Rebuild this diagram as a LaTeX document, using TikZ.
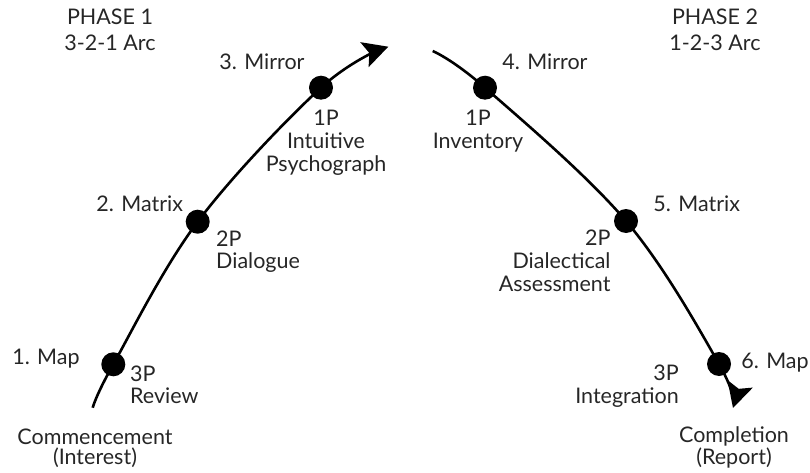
\documentclass[tikz,border=0pt]{standalone}
\usepackage{fontspec}
\setmainfont{Lato}
\usetikzlibrary{arrows.meta}
\begin{document}
\begin{tikzpicture}[x=1pt,y=-1pt,
  lbl/.style={inner sep=0pt, font=\fontsize{21.5}{23}\selectfont, text=black!85},
  head/.style={lbl, font=\fontsize{21.5}{25.7}\selectfont, align=center, anchor=base},
  endlbl/.style={lbl, font=\fontsize{21.5}{19.5}\selectfont, align=center, anchor=base},
  dot/.style={circle, fill=black, inner sep=0pt, minimum size=24pt},
  arcline/.style={line width=2.6pt, -{Stealth[length=25pt,width=26pt,inset=5pt]}}]
\useasboundingbox (0,0) rectangle (810,473);
% points on the arcs
\coordinate (sL) at (92.7,407.7);
\coordinate (p1) at (113.3,364.3);
\coordinate (p2) at (197.7,221.7);
\coordinate (p3) at (321,87.7);
\coordinate (eL) at (388.3,46.7);
\coordinate (sR) at (432.7,51);
\coordinate (p4) at (485,87.7);
\coordinate (p5) at (626,221);
\coordinate (p6) at (719,364);
\coordinate (eR) at (733,408);
% arcs
\draw[arcline] plot[smooth, tension=0.6] coordinates {(sL) (p1) (p2) (p3) (eL)};
\draw[arcline] plot[smooth, tension=0.6] coordinates {(sR) (p4) (p5) (p6) (eR)};
% dots
\node[dot] (d1) at (p1) {};
\node[dot] (d2) at (p2) {};
\node[dot] (d3) at (p3) {};
\node[dot] (d4) at (p4) {};
\node[dot] (d5) at (p5) {};
\node[dot] (d6) at (p6) {};
% headings (anchor = baseline of last line)
\node[head] (ph1) at (110,50.7) {PHASE 1\\3-2-1 Arc};
\node[head] (ph2) at (715,50.7) {PHASE 2\\1-2-3 Arc};
% phase 1 labels
\node[lbl, anchor=base] (m3) at (262,70) {3. Mirror};
\node[lbl, anchor=base, align=center] (t3) at (326,171.7) {1P\\Intuitive\\Psychograph};
\node[lbl, anchor=base] (m2) at (139.7,211.7) {2. Matrix};
\node[lbl, anchor=base west, align=left, font=\fontsize{21.5}{22}\selectfont] (t2) at (216,268) {2P\\Dialogue};
\node[lbl, anchor=base] (m1) at (46,364) {1. Map};
\node[lbl, anchor=base west, align=left, font=\fontsize{21.5}{22}\selectfont] (t1) at (130,403.3) {3P\\Review};
\node[endlbl] (c1) at (95,464) {Commencement\\(Interest)};
% phase 2 labels
\node[lbl, anchor=base] (m4) at (545,70) {4. Mirror};
\node[lbl, anchor=base, align=center] (t4) at (478,149) {1P\\Inventory};
\node[lbl, anchor=base] (m5) at (696.7,211.7) {5. Matrix};
\node[lbl, anchor=base east, align=right] (t5) at (610.7,291.7) {2P\\Dialectical\\Assessment};
\node[lbl, anchor=base] (m6) at (775,368.3) {6. Map};
\node[lbl, anchor=base east, align=right] (t6) at (679,403.3) {3P\\Integration};
\node[endlbl] (c2) at (734,464) {Completion\\(Report)};
\end{tikzpicture}
\end{document}
